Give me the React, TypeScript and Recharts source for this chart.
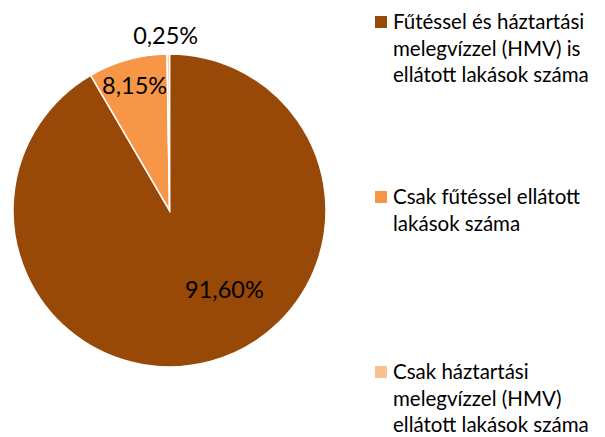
import React from 'react';
import { PieChart, Pie, Cell, Legend } from 'recharts';

const categories = [
  'Fűtéssel és háztartási melegvízzel (HMV) is ellátott lakások száma',
  'Csak fűtéssel ellátott lakások száma',
  'Csak háztartási melegvízzel (HMV) ellátott lakások száma',
];
const shares = [91.6, 8.15, 0.25];
const labels = ['91,60%', '8,15%', '0,25%'];
const legendLines = [
  ['Fűtéssel és háztartási', 'melegvízzel (HMV) is', 'ellátott lakások száma'],
  ['Csak fűtéssel ellátott', 'lakások száma'],
  ['Csak háztartási', 'melegvízzel (HMV)', 'ellátott lakások száma'],
];
const colors = ['#984807', '#F79646', '#FAC090'];

// label placement: radius factor and angle shift per slice
const labelPos = [
  { r: 0.61, shift: 20 },
  { r: 0.83, shift: 0 },
  { r: 1.12, shift: 0.8 },
];

const data = categories.map((name, i) => ({ name, value: shares[i], label: labels[i] }));

const FONT = 'Lato, "Open Sans", sans-serif';
const RAD = Math.PI / 180;

const renderLabel = (props: any) => {
  const { cx, cy, midAngle, outerRadius, index } = props;
  const p = labelPos[index];
  const a = (midAngle + p.shift) * RAD;
  const x = cx + outerRadius * p.r * Math.cos(a);
  const y = cy - outerRadius * p.r * Math.sin(a);
  return (
    <text x={x} y={y} fill="#000" fontSize={23.5} fontFamily={FONT} textAnchor="middle" dominantBaseline="central">
      {data[index].label}
    </text>
  );
};

const renderLegend = () => (
  <div style={{ fontFamily: FONT, fontSize: 20.5, color: '#000', lineHeight: '26.5px' }}>
    {legendLines.map((lines, i) => (
      <div key={i} style={{ display: 'flex', alignItems: 'flex-start', height: i < 2 ? 175 : undefined }}>
        <div style={{ width: 12, height: 12, background: colors[i], marginTop: 8, marginRight: 6, flexShrink: 0 }} />
        <div>
          {lines.map((l, j) => (
            <div key={j} style={{ whiteSpace: 'nowrap' }}>{l}</div>
          ))}
        </div>
      </div>
    ))}
  </div>
);

export default function App() {
  return (
    <div style={{ position: 'absolute', left: 0, top: 0, width: 605, height: 437, overflow: 'hidden', background: '#fff' }}>
      <PieChart width={605} height={437} margin={{ top: 0, right: 0, bottom: 0, left: 0 }}>
        <Pie
          data={data}
          dataKey="value"
          cx={169.5}
          cy={210.5}
          outerRadius={156.5}
          startAngle={90}
          endAngle={-270}
          stroke="#fff"
          strokeWidth={1.5}
          label={renderLabel}
          labelLine={false}
          isAnimationActive={false}
        >
          {data.map((d, i) => (
            <Cell key={d.name} fill={colors[i]} />
          ))}
        </Pie>
        <Legend
          layout="vertical"
          content={renderLegend}
          wrapperStyle={{ position: 'absolute', left: 375, top: 8, width: 240 }}
        />
      </PieChart>
    </div>
  );
}
